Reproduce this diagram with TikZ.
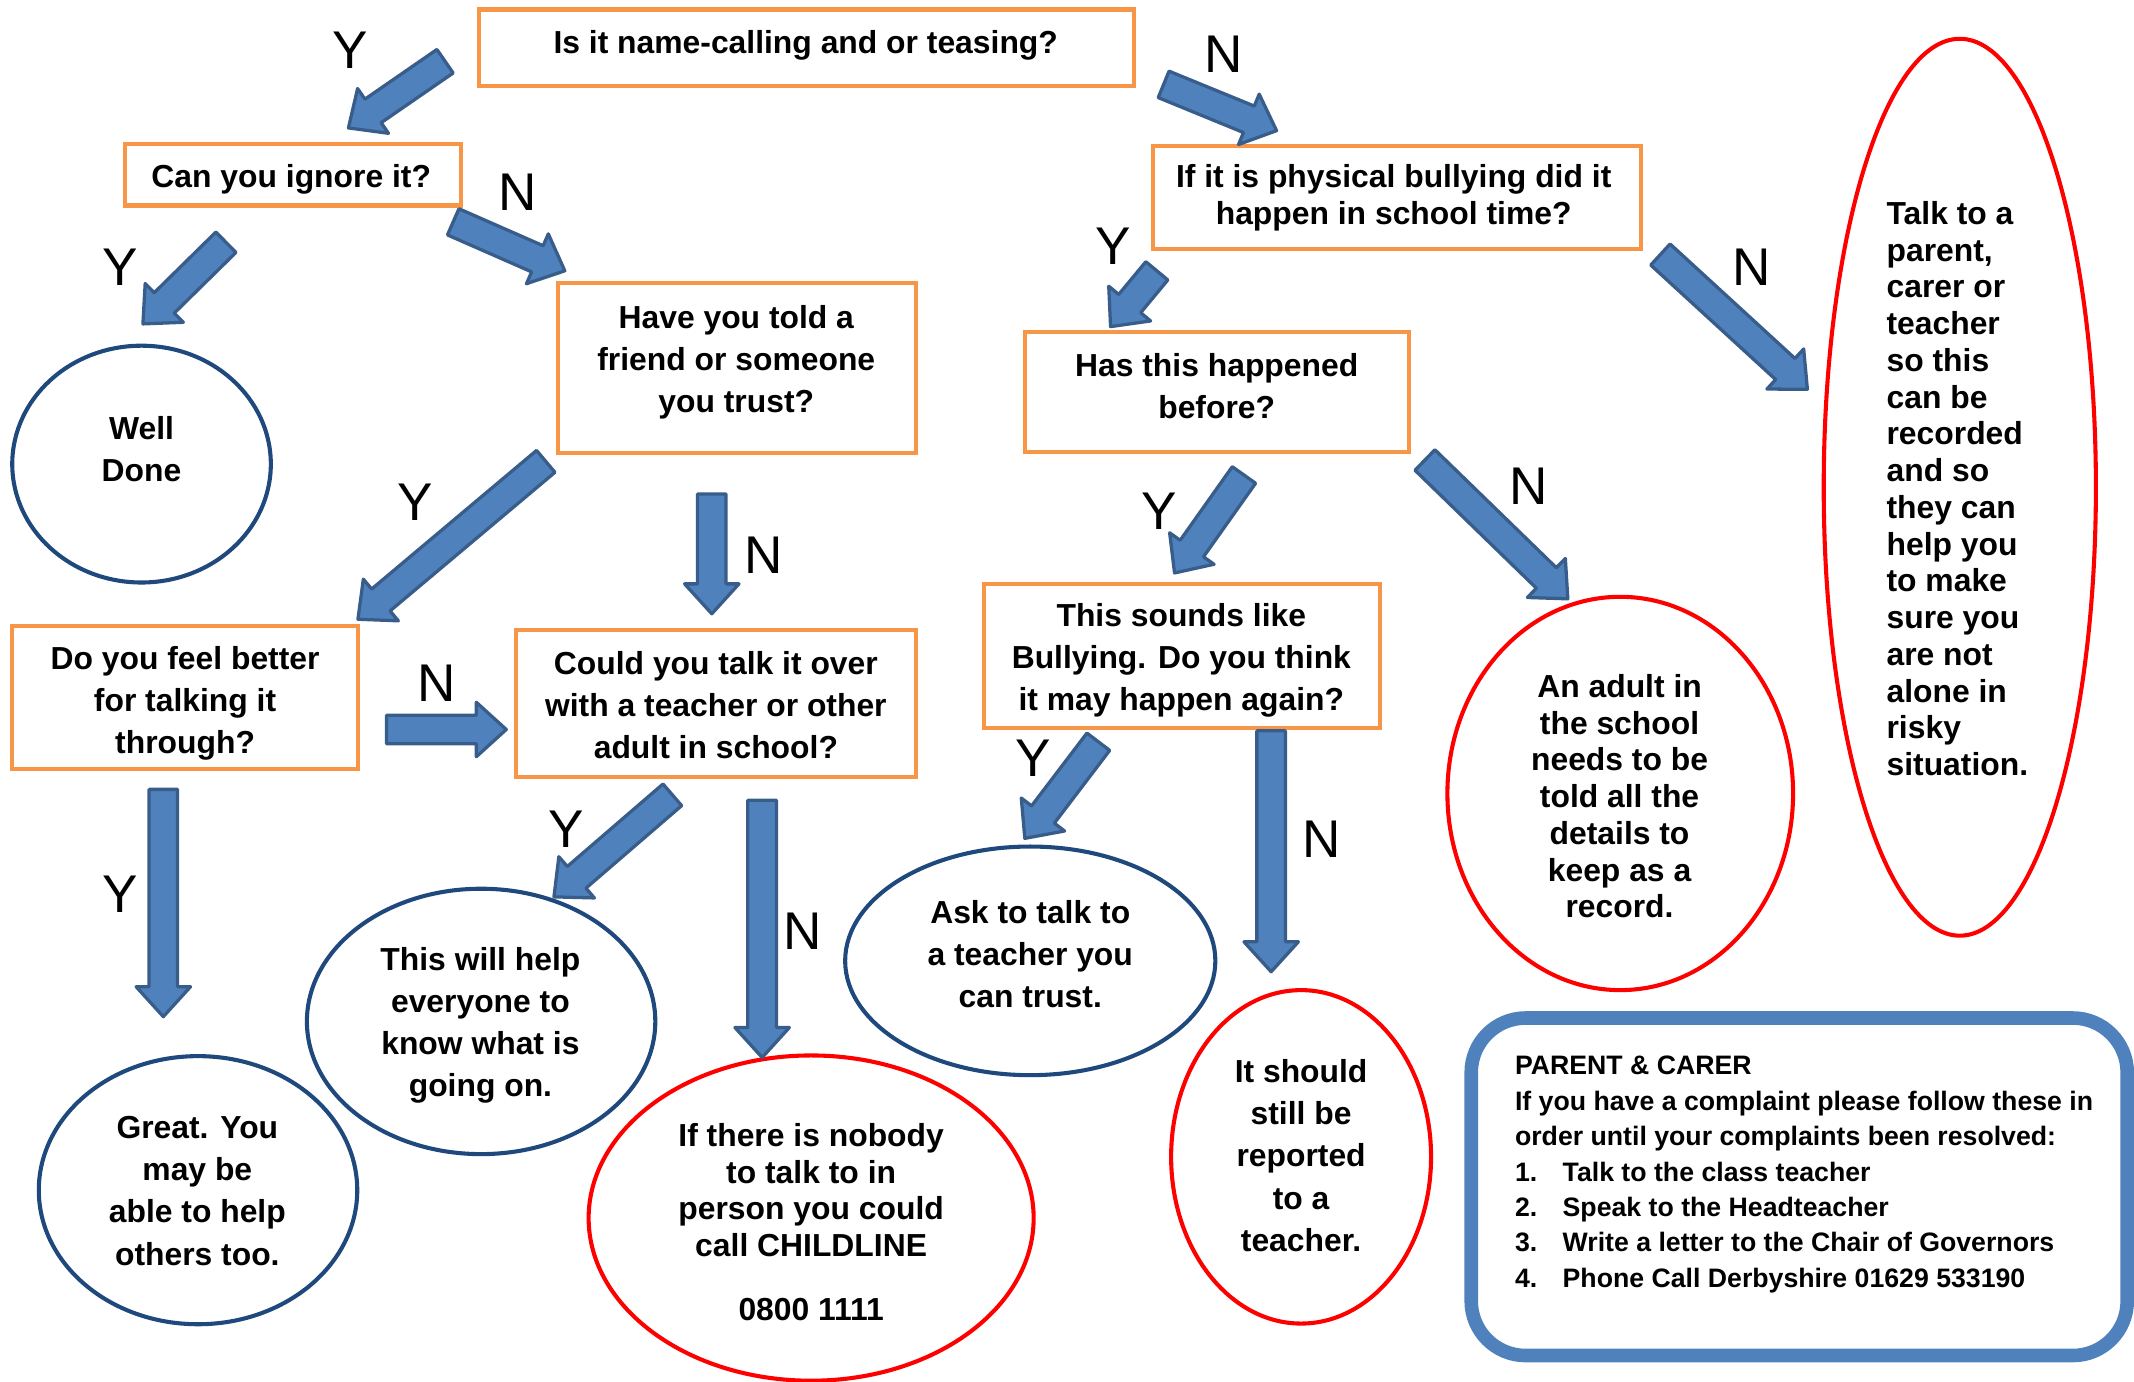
\documentclass[tikz,border=0pt]{standalone}
\usepackage{fontspec}
\setmainfont{Liberation Sans}
\usetikzlibrary{calc,shapes.geometric}
\definecolor{orangeb}{HTML}{F79646}
\definecolor{darkblue}{HTML}{1F497D}
\definecolor{arrfill}{HTML}{4F81BD}
\definecolor{arrline}{HTML}{385D8A}
\definecolor{redl}{HTML}{FF0000}
\newcommand\blockarrow[2]{%
  \pgfpointdiff{\pgfpointanchor{#1}{center}}{\pgfpointanchor{#2}{center}}%
  \pgfgetlastxy{\bdx}{\bdy}%
  \pgfmathsetmacro\bang{atan2(\bdy,\bdx)}%
  \pgfmathsetmacro\blen{veclen(\bdx,\bdy)}%
  \pgfmathsetmacro\bneck{\blen-22}%
  \begin{scope}[shift={(#1)},rotate=\bang]
    \draw[blockarr] (0pt,-10.5pt) -- (\bneck pt,-10.5pt) -- (\bneck pt,-20pt) -- (\blen pt,0pt) -- (\bneck pt,20pt) -- (\bneck pt,10.5pt) -- (0pt,10.5pt) -- cycle;
  \end{scope}}
\tikzset{
  qbox/.style={draw=orangeb, line width=3pt, rectangle, inner sep=0pt},
  qtext/.style={align=center, inner sep=0pt, font=\bfseries\fontsize{23.4}{31}\selectfont},
  qtextt/.style={align=center, inner sep=0pt, font=\bfseries\fontsize{23.4}{27}\selectfont},
  bluell/.style={draw=darkblue, line width=3pt, ellipse, inner sep=0pt},
  redell/.style={draw=redl, line width=3pt, ellipse, inner sep=0pt},
  blockarr/.style={fill=arrfill, draw=arrline, line width=2.4pt, line join=round},
  yn/.style={inner sep=0pt, font=\fontsize{39}{39}\selectfont},
}
\begin{document}
\begin{tikzpicture}[x=1pt,y=-1pt]
\useasboundingbox (0,0) rectangle (1568,1015);
% ---------- question boxes
\node[qbox, minimum width=481, minimum height=56] (b1) at (592.5,35) {};
\node[qtext] (b1t) at (592,33) {Is it name-calling and or teasing?};
\node[qbox, minimum width=247, minimum height=45] (b2) at (215.5,128.5) {};
\node[qtext] (b2t) at (214,132) {Can you ignore it?};
\node[qbox, minimum width=263, minimum height=125] (b3) at (541.5,270.5) {};
\node[qtext] (b3t) at (541,266) {Have you told a\\friend or someone\\you trust?};
\node[qbox, minimum width=254, minimum height=105] (b4) at (136,512.5) {};
\node[qtext] (b4t) at (136,517) {Do you feel better\\for talking it\\through?};
\node[qbox, minimum width=294, minimum height=108] (b5) at (526,517) {};
\node[qtext] (b5t) at (526,518) {Could you talk it over\\with a teacher or other\\adult in school?};
\node[qbox, minimum width=359, minimum height=76] (b6) at (1026.5,145) {};
\node[qtextt] (b6t) at (1024,145.5) {If it is physical bullying did it\\happen in school time?};
\node[qbox, minimum width=282, minimum height=88] (b7) at (894,288) {};
\node[qtext] (b7t) at (894,283.5) {Has this happened\\before?};
\node[qbox, minimum width=291, minimum height=106] (b8) at (868.5,482) {};
\node[qtext] (b8t) at (868,485) {This sounds like\\Bullying. Do you think\\it may happen again?};
% ---------- blue outcome ellipses
\node[bluell, minimum width=190, minimum height=174] (e1) at (104,341) {};
\node[qtext] (e1t) at (104,330) {Well\\Done};
\node[bluell, minimum width=234, minimum height=197] (e2) at (145.5,874.5) {};
\node[qtext] (e2t) at (145,875) {Great. You\\may be\\able to help\\others too.};
\node[bluell, minimum width=256, minimum height=195] (e3) at (353.5,750.5) {};
\node[qtext] (e3t) at (353,753.5) {This will help\\everyone to\\know what is\\going on.};
\node[bluell, minimum width=272, minimum height=168] (e4) at (757,706) {};
\node[qtext] (e4t) at (757,701) {Ask to talk to\\a teacher you\\can trust.};
% ---------- red outcome ellipses
\node[redell, minimum width=327, minimum height=239] (r1) at (596,895) {};
\node[qtextt] (r1t) at (596,874.5) {If there is nobody\\to talk to in\\person you could\\call CHILDLINE};
\node[qtext] (r1n) at (596,962) {0800 1111};
\node[redell, minimum width=191, minimum height=245] (r2) at (956,850) {};
\node[qtext] (r2t) at (956,849) {It should\\still be\\reported\\to a\\teacher.};
\node[redell, minimum width=254, minimum height=289] (r3) at (1190.5,583) {};
\node[qtextt] (r3t) at (1190,585) {An adult in\\the school\\needs to be\\told all the\\details to\\keep as a\\record.};
\node[redell, minimum width=200, minimum height=659] (r4) at (1440,358) {};
\node[qtextt, align=left, anchor=west] (r4t) at (1386,359) {Talk to a\\parent,\\carer or\\teacher\\so this\\can be\\recorded\\and so\\they can\\help you\\to make\\sure you\\are not\\alone in\\risky\\situation.};
% ---------- parent & carer box
\node[draw=arrfill, line width=10pt, rounded corners=40pt, minimum width=482, minimum height=248, inner sep=0pt] (pc) at (1322,872) {};
\node[align=left, anchor=west, inner sep=0pt, font=\bfseries\fontsize{19.6}{26}\selectfont] (pct) at (1113,863) {PARENT \& CARER\\
If you have a complaint please follow these in\\
order until your complaints been resolved:\\
\makebox[35pt][l]{1.}Talk to the class teacher\\
\makebox[35pt][l]{2.}Speak to the Headteacher\\
\makebox[35pt][l]{3.}Write a letter to the Chair of Governors\\
\makebox[35pt][l]{4.}Phone Call Derbyshire 01629 533190};
% ---------- arrow end points
\coordinate (a1t) at (327,45);   \coordinate (a1h) at (256,94);
\coordinate (a2t) at (855,62);   \coordinate (a2h) at (938,96);
\coordinate (a3t) at (166,178);  \coordinate (a3h) at (105,238);
\coordinate (a4t) at (333,163);  \coordinate (a4h) at (415,199);
\coordinate (a5t) at (401,339);  \coordinate (a5h) at (263,455);
\coordinate (a6t) at (523,363);  \coordinate (a6h) at (523,451);
\coordinate (a7t) at (284,536);  \coordinate (a7h) at (372,536);
\coordinate (a8t) at (120,580);  \coordinate (a8h) at (120,747);
\coordinate (a9t) at (494,584);  \coordinate (a9h) at (407,659);
\coordinate (a10t) at (560,588); \coordinate (a10h) at (560,777);
\coordinate (a11t) at (850,199); \coordinate (a11h) at (816,240);
\coordinate (a12t) at (1220,187);\coordinate (a12h) at (1328,286);
\coordinate (a13t) at (914,349); \coordinate (a13h) at (863,421);
\coordinate (a14t) at (1047,338);\coordinate (a14h) at (1152,440);
\coordinate (a15t) at (807,545); \coordinate (a15h) at (753,616);
\coordinate (a16t) at (934,537); \coordinate (a16h) at (934,714);
\blockarrow{a1t}{a1h}
\blockarrow{a2t}{a2h}
\blockarrow{a3t}{a3h}
\blockarrow{a4t}{a4h}
\blockarrow{a5t}{a5h}
\blockarrow{a6t}{a6h}
\blockarrow{a7t}{a7h}
\blockarrow{a8t}{a8h}
\blockarrow{a9t}{a9h}
\blockarrow{a10t}{a10h}
\blockarrow{a11t}{a11h}
\blockarrow{a12t}{a12h}
\blockarrow{a13t}{a13h}
\blockarrow{a14t}{a14h}
\blockarrow{a15t}{a15h}
\blockarrow{a16t}{a16h}
% ---------- Y / N labels
\node[yn] (l1) at (257,37) {Y};
\node[yn] (l2) at (899,40) {N};
\node[yn] (l3) at (88,196) {Y};
\node[yn] (l4) at (380,141) {N};
\node[yn] (l5) at (305,369) {Y};
\node[yn] (l6) at (561,408) {N};
\node[yn] (l7) at (321,502) {N};
\node[yn] (l8) at (88,657) {Y};
\node[yn] (l9) at (416,609) {Y};
\node[yn] (l10) at (590,684) {N};
\node[yn] (l11) at (818,181) {Y};
\node[yn] (l12) at (1287,196) {N};
\node[yn] (l13) at (852,376) {Y};
\node[yn] (l14) at (1123,357) {N};
\node[yn] (l15) at (759,557) {Y};
\node[yn] (l16) at (971,617) {N};
\end{tikzpicture}
\end{document}
